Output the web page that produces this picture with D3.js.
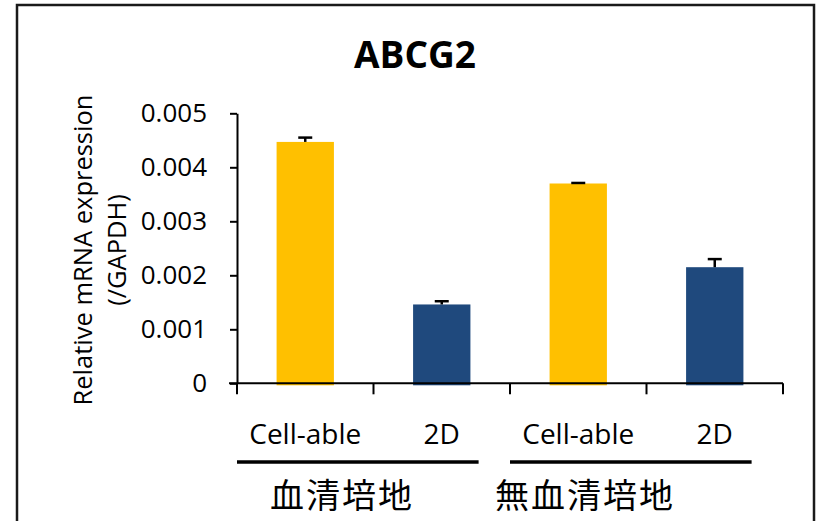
<!DOCTYPE html>
<html><head><meta charset="utf-8">
<script src="https://cdn.jsdelivr.net/npm/d3@7/dist/d3.min.js"></script>
<style>
html,body{margin:0;padding:0;background:#fff;}
text{font-family:"Open Sans","Liberation Sans",sans-serif;}
</style></head>
<body><svg id="c" width="816" height="521"></svg>
<script>
const title = "ABCG2";
const categories = ["Cell-able","2D","Cell-able","2D"];
const values = [0.00447, 0.00146, 0.00370, 0.00215];
const errors = [0.00008, 0.00006, 0.00001, 0.00015];
const barColors = ["#FFC000","#1F497D","#FFC000","#1F497D"];
const groups = ["血清培地","無血清培地"];
const yTicks = [0,0.001,0.002,0.003,0.004,0.005];
const yTitle = ["Relative mRNA expression","(/GAPDH)"];

const svg = d3.select("#c");
// frame
svg.append("rect").attr("x",17).attr("y",5).attr("width",797).attr("height",540)
  .attr("fill","none").attr("stroke","#1a1a1a").attr("stroke-width",2.5);

const x = d3.scaleBand().domain(d3.range(categories.length)).range([237,783]).padding(0);
const y = d3.scaleLinear().domain([0,0.005]).range([383.3,113.3]);
const barW = x.bandwidth()*0.42;

// bars
svg.append("g").selectAll("rect").data(values).join("rect")
  .attr("x",(d,i)=>x(i)+x.bandwidth()/2-barW/2)
  .attr("y",d=>y(d)).attr("width",barW).attr("height",d=>y(0)-y(d)+2)
  .attr("fill",(d,i)=>barColors[i]);

// error bars
const eg = svg.append("g").attr("stroke","#000").attr("stroke-width",2.5);
values.forEach((v,i)=>{
  const cx = x(i)+x.bandwidth()/2;
  eg.append("line").attr("x1",cx).attr("x2",cx).attr("y1",y(v)).attr("y2",y(v+errors[i]));
  eg.append("line").attr("x1",cx-7).attr("x2",cx+7).attr("y1",y(v+errors[i])).attr("y2",y(v+errors[i]));
});

// y axis
const ya = svg.append("g").attr("transform","translate(237,0)")
  .call(d3.axisLeft(y).tickValues(yTicks).tickSize(7).tickSizeOuter(0).tickPadding(23)
    .tickFormat(d=>d===0?"0":d3.format(".3f")(d)));
ya.selectAll("path,line").attr("stroke","#000").attr("stroke-width",2);
ya.selectAll("text").attr("font-size",26).attr("fill","#000")
  .style("font-family","'Open Sans','Liberation Sans',sans-serif");

// x axis
const xa = svg.append("g").attr("transform",`translate(0,${y(0)})`)
  .call(d3.axisBottom(x).tickSize(0).tickSizeOuter(0).tickPadding(41).tickFormat(i=>categories[i]));
xa.select(".domain").remove();
xa.selectAll("text").attr("font-size",28).attr("fill","#000")
  .style("font-family","'Open Sans','Liberation Sans',sans-serif");
svg.append("line").attr("x1",229).attr("x2",x.range()[1]).attr("y1",y(0)).attr("y2",y(0))
  .attr("stroke","#000").attr("stroke-width",2);
const bounds = d3.range(categories.length+1).map(i=>x.range()[0]+i*x.step());
svg.append("g").selectAll("line").data(bounds).join("line")
  .attr("x1",d=>d).attr("x2",d=>d).attr("y1",y(0)).attr("y2",y(0)+11)
  .attr("stroke","#000").attr("stroke-width",2);

// group brackets
const gb = [[0,1],[2,3]];
gb.forEach((g)=>{
  const x1 = x(g[0]);
  const x2 = x(g[1]) + x.bandwidth()*0.77;
  svg.append("line").attr("x1",x1).attr("x2",x2).attr("y1",462).attr("y2",462)
    .attr("stroke","#000").attr("stroke-width",3.5);
});
const gx = [x(0)+x.bandwidth()*0.77, x(2)+x.bandwidth()*0.55];
svg.append("g").selectAll("text").data(groups).join("text")
  .attr("x",(d,i)=>gx[i]).attr("y",508).attr("text-anchor","middle")
  .attr("font-size",34).attr("letter-spacing",2)
  .style("font-family","'Noto Sans CJK JP',sans-serif").text(d=>d);

// title
svg.append("text").attr("x",415).attr("y",68).attr("text-anchor","middle")
  .attr("font-size",37).attr("font-weight","bold").text(title);

// y title
const yt = svg.append("text").attr("transform","translate(0,250) rotate(-90)")
  .attr("text-anchor","middle").attr("font-size",25.5);
yt.append("tspan").attr("x",0).attr("y",92).text(yTitle[0]);
yt.append("tspan").attr("x",0).attr("y",126).text(yTitle[1]);
</script></body></html>
